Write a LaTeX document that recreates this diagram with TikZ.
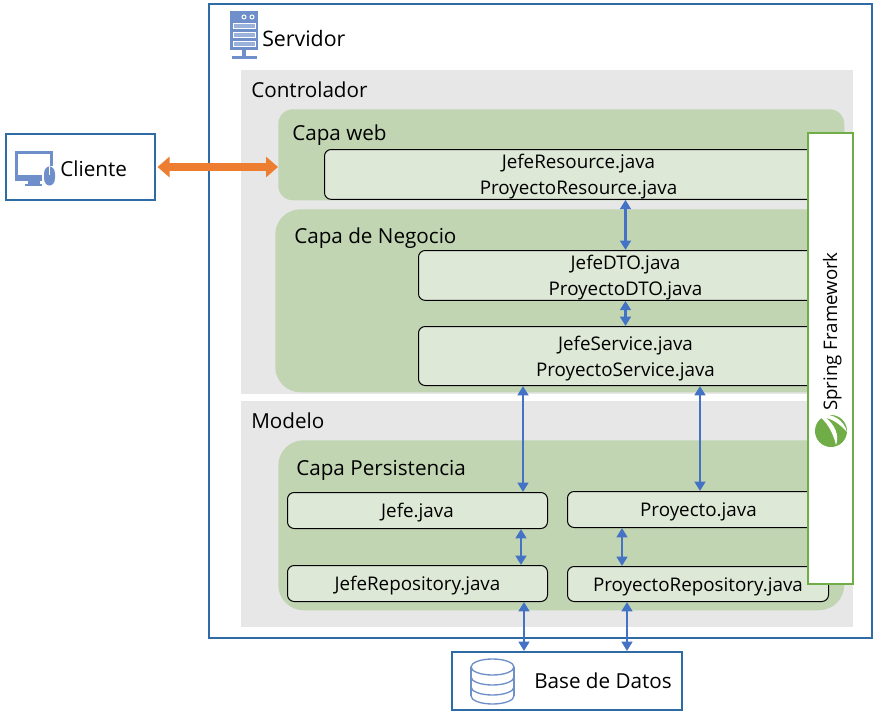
\documentclass[tikz,border=0pt]{standalone}
\usepackage{fontspec}
\setmainfont{Open Sans}
\usetikzlibrary{arrows.meta}
\definecolor{bluebox}{HTML}{2F6CA6}
\definecolor{iconblue}{HTML}{6F8FCB}
\definecolor{panelgray}{HTML}{E7E7E7}
\definecolor{layergreen}{HTML}{C1D5B2}
\definecolor{boxgreen}{HTML}{DEE8D6}
\definecolor{springgreen}{HTML}{70AD47}
\definecolor{arrowblue}{HTML}{4472C4}
\definecolor{arroworange}{HTML}{ED7D31}
\newcommand{\linedown}{\rule{0pt}{14.5pt}}
\tikzset{
  x=0.75pt,y=-0.75pt,
  txt/.style={font=\fontsize{15.5}{18}\selectfont,inner sep=0pt,text=black,anchor=base west},
  outerbox/.style={draw=bluebox,line width=1.5pt,fill=white,inner sep=0pt,anchor=north west},
  panel/.style={fill=panelgray,inner sep=0pt,anchor=north west},
  layer/.style={fill=layergreen,inner sep=0pt,anchor=north west},
  filebox/.style={draw=black,line width=0.75pt,fill=boxgreen,rounded corners=5pt,inner sep=0pt,anchor=north west,align=center,font=\fontsize{14.1}{19.5}\selectfont},
  link/.style={draw=arrowblue,line width=1.8pt,{Triangle[length=7pt,width=8pt]}-{Triangle[length=7pt,width=8pt]}},
  iconl/.style={draw=iconblue,line width=1pt},
}
\begin{document}
\begin{tikzpicture}
\useasboundingbox (0,0) rectangle (876,728);
% outer boxes
\node[outerbox,minimum width=663*0.75pt,minimum height=634*0.75pt] (servidor) at (208,3) {};
\node[outerbox,minimum width=149*0.75pt,minimum height=66*0.75pt] (cliente) at (5,133) {};
\node[outerbox,minimum width=230*0.75pt,minimum height=58*0.75pt] (bd) at (451,651) {};
% panels
\node[panel,minimum width=612*0.75pt,minimum height=324*0.75pt] (controlador) at (241,70) {};
\node[panel,minimum width=612*0.75pt,minimum height=226*0.75pt] (modelo) at (241,401) {};
% layers
\node[layer,rounded corners=11pt,minimum width=566*0.75pt,minimum height=91*0.75pt] (web) at (278,109) {};
\node[layer,rounded corners=19pt,minimum width=569*0.75pt,minimum height=183*0.75pt] (negocio) at (275,209) {};
\node[layer,rounded corners=19pt,minimum width=566*0.75pt,minimum height=170*0.75pt] (persist) at (278,440) {};
% file boxes
\node[filebox,minimum width=508*0.75pt,minimum height=48*0.75pt] (resource) at (324,149) {\linedown JefeResource.java\\ProyectoResource.java};
\node[filebox,minimum width=414*0.75pt,minimum height=49*0.75pt] (dto) at (418,250) {\linedown JefeDTO.java\\ProyectoDTO.java};
\node[filebox,minimum width=414*0.75pt,minimum height=59*0.75pt] (service) at (418,326) {\linedown JefeService.java\\ProyectoService.java};
\node[filebox,minimum width=260*0.75pt,minimum height=36*0.75pt] (jefe) at (287,492) {\linedown Jefe.java};
\node[filebox,minimum width=262*0.75pt,minimum height=36*0.75pt] (proyecto) at (567,491) {\linedown Proyecto.java};
\node[filebox,minimum width=260*0.75pt,minimum height=36*0.75pt] (jeferepo) at (287,565) {\linedown JefeRepository.java};
\node[filebox,minimum width=261*0.75pt,minimum height=35*0.75pt] (proyrepo) at (567,566) {\linedown ProyectoRepository.java};
% labels
\node[txt,font=\fontsize{16}{18}\selectfont] (lserv) at (262,46) {Servidor};
\node[txt] (lcont) at (251,97) {Controlador};
\node[txt] (lweb) at (292,140) {Capa web};
\node[txt] (lneg) at (294,243) {Capa de Negocio};
\node[txt] (lmod) at (251,428) {Modelo};
\node[txt] (lper) at (296,475) {Capa Persistencia};
\node[txt] (lcli) at (60,176) {Cliente};
\node[txt] (lbd) at (534,688) {Base de Datos};
% connector x positions
\coordinate (xa) at (523,0);
\coordinate (xb) at (700,0);
\coordinate (xc) at (521,0);
\coordinate (xd) at (622,0);
\coordinate (xe) at (524,0);
\coordinate (xf) at (627,0);
% connectors
\draw[arroworange,line width=6pt,{Triangle[length=9pt,width=15pt]}-{Triangle[length=9pt,width=15pt]}] (cliente.east) ++(1.5,0) -- (web.west |- cliente.east);
\draw[link] (dto.north |- resource.south) -- (dto.north);
\draw[link] (dto.south) -- (service.north);
\draw[link] (xa |- service.south) -- (xa |- jefe.north);
\draw[link] (xb |- service.south) -- (xb |- proyecto.north);
\draw[link] (xc |- jefe.south) -- (xc |- jeferepo.north);
\draw[link] (xd |- proyecto.south) -- (xd |- proyrepo.north);
\draw[link] (xe |- jeferepo.south) -- (xe |- bd.north);
\draw[link] (xf |- proyrepo.south) -- (xf |- bd.north);
% spring
\node[draw=springgreen,line width=1.5pt,fill=white,inner sep=0pt,anchor=north west,minimum width=45*0.75pt,minimum height=451*0.75pt] (spring) at (807,132) {};
\node[txt,font=\fontsize{14}{17}\selectfont,rotate=90] (lspring) at (837,411) {Spring Framework};
% spring leaf
\fill[springgreen] (831,431) circle[radius=16];
\fill[white] (817,415) .. controls (832,412) and (844,420) .. (847,432) .. controls (840,424) and (832,419) .. (826,418) .. controls (834,424) and (840,435) .. (836,445) .. controls (833,432) and (826,420) .. cycle;
% server icon
\fill[iconblue] (230,11) rectangle (258,50);
\fill[iconblue] (242,50) rectangle (246,56);
\fill[iconblue] (232,56) rectangle (257,59);
\foreach \yy in {23,32,41}{\draw[white,line width=0.7pt,fill=iconblue!70!white] (233,\yy) rectangle (255,\yy+5);}
\draw[white,line width=0.7pt] (244,17) circle[radius=2];
\draw[white,line width=0.7pt] (252,17) circle[radius=2];
% client icon
\fill[iconblue] (15,151) rectangle (53,181);
\fill[white] (18,154) rectangle (50,175);
\fill[iconblue] (28,181) rectangle (40,184);
\fill[iconblue] (25,184) rectangle (43,186);
\fill[white] (42,166) rectangle (57,187);
\fill[iconblue] (44,174) .. controls (44,164) and (55,164) .. (55,174) -- (55,178) .. controls (55,188) and (44,188) .. (44,178) -- cycle;
\draw[white,line width=0.6pt] (49.5,167) -- (49.5,175);
% database icon
\draw[iconl] (471,667) -- (471,696);
\draw[iconl] (514,667) -- (514,696);
\draw[iconl] (492.5,667) ellipse[x radius=21.5,y radius=8];
\draw[iconl] (471,677) arc[start angle=180,end angle=360,x radius=21.5,y radius=-8];
\draw[iconl] (471,687) arc[start angle=180,end angle=360,x radius=21.5,y radius=-8];
\draw[iconl] (471,696) arc[start angle=180,end angle=360,x radius=21.5,y radius=-8];
\end{tikzpicture}
\end{document}
